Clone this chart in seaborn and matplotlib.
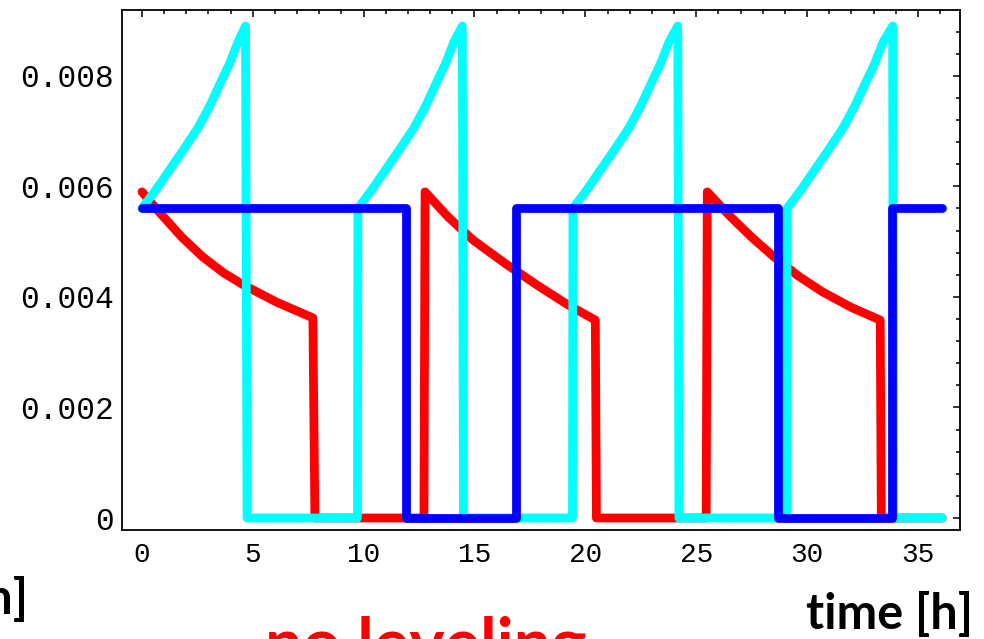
import numpy as np
import pandas as pd
import matplotlib
matplotlib.use('Agg')
import matplotlib.pyplot as plt
from matplotlib.ticker import MultipleLocator
import seaborn as sns

# red: decaying level with drop-outs
red_t = [0, 0.81, 1.8, 2.75, 3.7, 4.56, 6.1, 7.71, 7.8, 12.72,
         12.77, 13.8, 14.93, 16.4, 17.95, 19.2, 20.45, 20.5, 25.45,
         25.5, 26.5, 27.5, 28.46, 29.6, 30.7, 32.0, 33.3, 33.35, 36.1]
red_v = [0.0059, 0.00552, 0.00508, 0.00472, 0.00443, 0.00422, 0.0039, 0.00362, 0, 0,
         0.0059, 0.00545, 0.00503, 0.0046, 0.00418, 0.00386, 0.00358, 0, 0,
         0.0059, 0.00547, 0.00508, 0.00474, 0.00438, 0.00409, 0.00381, 0.00358, 0, 0]

# cyan: rising curve, reset to zero
cyan_t = [0, 0.65, 1.3, 1.9, 2.53, 3.05, 3.56, 3.95, 4.33, 4.67, 4.74, 9.72,
          9.74, 10.39, 11.04, 11.64, 12.27, 12.79, 13.3, 13.69, 14.07, 14.45, 14.5, 19.42,
          19.44, 20.09, 20.74, 21.34, 21.97, 22.49, 23.0, 23.39, 23.77, 24.17, 24.22, 29.08,
          29.1, 29.75, 30.4, 31.0, 31.63, 32.15, 32.66, 33.05, 33.43, 33.86, 33.9, 36.1]
cyan_v = [0.0056, 0.00595, 0.00633, 0.00668, 0.00706, 0.00745, 0.00789, 0.00822, 0.00861, 0.0089, 0, 0,
          0.0056, 0.00595, 0.00633, 0.00668, 0.00706, 0.00745, 0.00789, 0.00822, 0.00861, 0.0089, 0, 0,
          0.0056, 0.00595, 0.00633, 0.00668, 0.00706, 0.00745, 0.00789, 0.00822, 0.00861, 0.0089, 0, 0,
          0.0056, 0.00595, 0.00633, 0.00668, 0.00706, 0.00745, 0.00789, 0.00822, 0.00861, 0.0089, 0, 0]

# blue: on/off
blue_t = [0, 11.9, 11.9, 16.85, 16.85, 28.7, 28.7, 33.85, 33.85, 36.1]
blue_v = [0.0056, 0.0056, 0, 0, 0.0056, 0.0056, 0, 0, 0.0056, 0.0056]

x_ticks = [0, 5, 10, 15, 20, 25, 30, 35]
y_ticks = [0, 0.002, 0.004, 0.006, 0.008]
y_labels = ['0', '0.002', '0.004', '0.006', '0.008']

sns.set_theme(style='white')

fig = plt.figure(figsize=(9.84, 6.39), dpi=100)
ax = fig.add_axes([122 / 984, 1 - 530 / 639, (960 - 122) / 984, (530 - 10) / 639])

lw = 6.3
for t, v, c in [(red_t, red_v, '#ff0000'), (cyan_t, cyan_v, '#00ffff'), (blue_t, blue_v, '#0000ff')]:
    df = pd.DataFrame({'t': t, 'v': v})
    sns.lineplot(data=df, x='t', y='v', ax=ax, sort=False, estimator=None,
                 color=c, linewidth=lw, solid_capstyle='round', solid_joinstyle='round')

ax.set_xlim(-0.9, 36.9)
ax.set_ylim(-0.000217, 0.00919)
ax.set_xlabel('')
ax.set_ylabel('')

for s in ax.spines.values():
    s.set_color('black')
    s.set_linewidth(1.3)

ax.set_xticks(x_ticks)
ax.set_xticklabels([str(x) for x in x_ticks])
ax.set_yticks(y_ticks)
ax.set_yticklabels(y_labels)
ax.xaxis.set_minor_locator(MultipleLocator(1))
ax.yaxis.set_minor_locator(MultipleLocator(0.0004))
ax.tick_params(which='both', direction='in', top=True, right=True, color='black', width=1.1)
ax.tick_params(which='major', length=5)
ax.tick_params(which='minor', length=3)
ax.tick_params(axis='x', which='major', pad=9)
ax.tick_params(axis='y', which='major', pad=6)
for lab in ax.get_xticklabels():
    lab.set_family('Liberation Mono')
    lab.set_fontsize(20)
    lab.set_color('black')
for lab in ax.get_yticklabels():
    lab.set_family('Liberation Mono')
    lab.set_fontsize(22.5)
    lab.set_color('black')

fig.text(0.989, 1 - 629 / 639, 'time [h]', ha='right', va='baseline',
         family='Lato', weight='bold', fontsize=35, color='black')
fig.text(28 / 984, 1 - 614 / 639, 'time [h]', ha='right', va='baseline',
         family='Lato', weight='bold', fontsize=35, color='black')
fig.text(426 / 984, 1 - 666 / 639, 'no leveling', ha='center', va='baseline',
         family='Lato', weight='bold', fontsize=48, color='#ff0000')

fig.savefig('out.png', dpi=100, facecolor='white')
